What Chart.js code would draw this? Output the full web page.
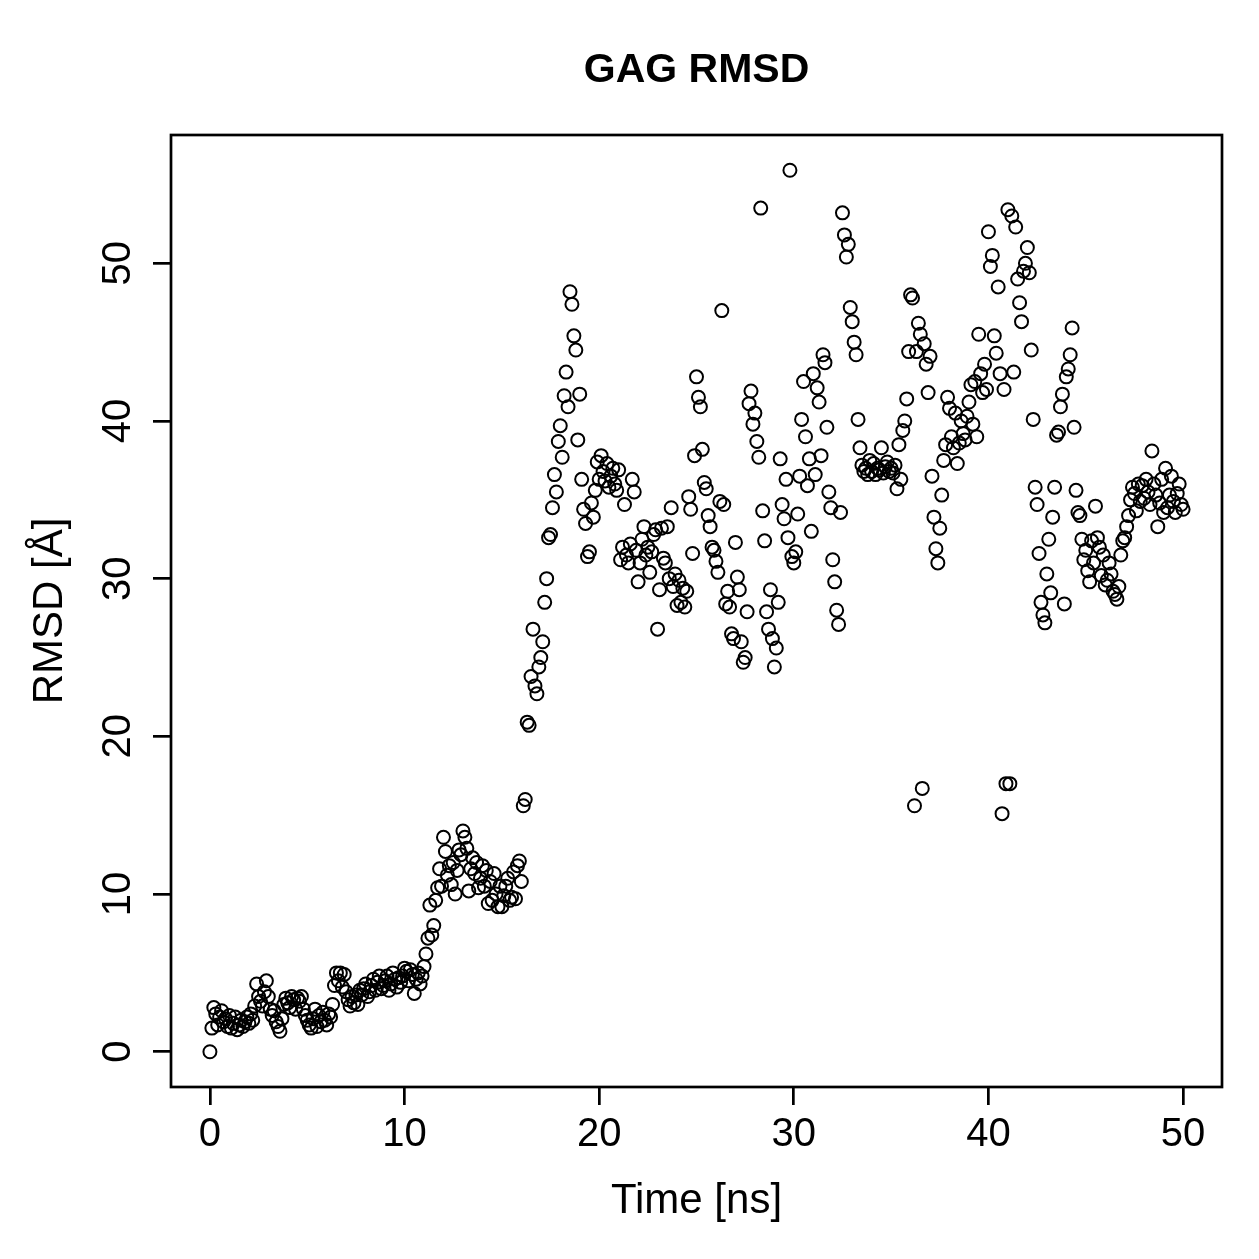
<!DOCTYPE html>
<html>
<head>
<meta charset="utf-8">
<script src="https://cdn.jsdelivr.net/npm/chart.js@4.4.1/dist/chart.umd.min.js"></script>
<style>
html,body{margin:0;padding:0;background:#fff;overflow:hidden;}
canvas{display:block;}
</style>
</head>
<body>
<canvas id="c" width="1259" height="1259"></canvas>
<script>
// ---- DATA (RMSD in Å, one sample every 0.1 ns) ----
const chartTitle = "GAG RMSD";
const xTitle = "Time [ns]";
const yTitle = "RMSD [Å]";
const timeStepNs = 0.1;
const xTickValues = [0, 10, 20, 30, 40, 50];
const yTickValues = [0, 10, 20, 30, 40, 50];

const rmsd_0_10 = [
  0.0, 1.5, 2.8, 2.4, 1.7, 2.2, 2.6, 1.9, 2.1, 1.6,
  2.3, 1.5, 1.8, 2.2, 1.4, 1.7, 2.0, 1.6, 1.9, 2.2,
  1.8, 2.4, 2.0, 2.9, 4.3, 3.5, 3.2, 2.9, 3.8, 4.5,
  3.5, 2.7, 2.3, 2.6, 1.9, 1.6, 1.3, 2.1, 3.0, 3.4,
  3.1, 2.8, 3.5, 3.3, 2.7, 3.4, 3.2, 3.5, 2.7, 2.3,
  2.0, 1.7, 1.5, 2.1, 2.7, 1.6, 2.3, 1.9, 2.5, 2.0,
  1.7, 2.4, 2.2, 3.0, 4.2, 5.0, 4.5, 5.0, 4.1, 4.9,
  3.8, 3.3, 2.9, 3.5, 3.1, 3.6, 3.0, 3.9, 3.6, 4.0,
  4.3, 3.5, 3.8, 4.2, 4.6, 3.9, 4.4, 4.8, 4.0, 4.2,
  4.5, 4.8, 3.9, 4.3, 5.0, 4.6, 4.1, 4.7, 4.4, 4.8
];
const rmsd_10_20 = [
  5.3, 5.1, 4.5, 5.2, 4.9, 3.7, 4.6, 5.0, 4.3, 4.8,
  5.4, 6.2, 7.2, 9.3, 7.4, 8.0, 9.6, 10.4, 11.6, 10.5,
  13.6, 12.7, 11.2, 11.8, 10.6, 12.0, 10.0, 11.5, 12.8, 12.5,
  14.0, 13.6, 12.9, 10.2, 11.6, 12.3, 11.3, 12.0, 10.4, 11.0,
  11.8, 10.5, 11.5, 9.4, 10.8, 9.6, 11.3, 10.0, 9.2, 10.5,
  9.2, 9.9, 10.5, 11.0, 9.6, 9.8, 11.4, 9.7, 11.8, 12.1,
  10.8, 15.6, 16.0, 20.9, 20.7, 23.8, 26.8, 23.2, 22.7, 24.4,
  25.0, 26.0, 28.5, 30.0, 32.6, 32.8, 34.5, 36.6, 35.5, 38.7,
  39.7, 37.7, 41.6, 43.1, 40.9, 48.2, 47.4, 45.4, 44.5, 38.8,
  41.7, 36.3, 34.4, 33.5, 31.4, 31.7, 34.8, 33.9, 35.6, 37.4
];
const rmsd_20_30 = [
  36.3, 37.8, 36.8, 36.2, 37.3, 35.8, 36.5, 37.0, 36.0, 35.6,
  36.9, 31.2, 32.0, 34.7, 31.5, 31.0, 32.2, 36.3, 35.5, 31.8,
  29.8, 31.0, 32.5, 33.3, 31.5, 32.0, 30.4, 31.7, 32.8, 33.1,
  26.8, 29.3, 33.2, 31.3, 31.0, 33.3, 30.0, 34.5, 29.5, 30.3,
  28.3, 29.9, 28.5, 29.4, 28.2, 29.2, 35.2, 34.4, 31.6, 37.8,
  42.8, 41.5, 40.9, 38.2, 36.1, 35.7, 34.0, 33.3, 32.0, 31.8,
  31.1, 30.4, 34.9, 47.0, 34.7, 28.4, 29.2, 28.2, 26.5, 26.2,
  32.3, 30.1, 29.3, 26.0, 24.7, 25.0, 27.9, 41.1, 41.9, 39.8,
  40.5, 38.7, 37.7, 53.5, 34.3, 32.4, 27.9, 26.8, 29.3, 26.2,
  24.4, 25.6, 28.5, 37.6, 34.7, 33.8, 36.3, 32.6, 55.9, 31.4
];
const rmsd_30_40 = [
  31.0, 31.7, 34.1, 36.5, 40.1, 42.5, 39.0, 35.9, 37.6, 33.0,
  43.0, 36.6, 42.1, 41.2, 37.8, 44.2, 43.7, 39.6, 35.5, 34.5,
  31.2, 29.8, 28.0, 27.1, 34.2, 53.2, 51.8, 50.4, 51.2, 47.2,
  46.3, 45.0, 44.2, 40.1, 38.3, 37.2, 36.8, 37.0, 36.6, 37.5,
  36.8, 37.3, 36.6, 37.0, 36.9, 38.3, 36.7, 37.1, 37.4, 36.8,
  37.0, 36.7, 37.2, 35.7, 38.5, 36.3, 39.4, 40.0, 41.4, 44.4,
  48.0, 47.8, 15.6, 44.4, 46.2, 45.5, 16.7, 44.9, 43.6, 41.8,
  44.1, 36.5, 33.9, 31.9, 31.0, 33.2, 35.3, 37.5, 38.5, 41.5,
  40.8, 39.0, 38.3, 40.5, 37.3, 38.6, 40.0, 39.2, 38.8, 40.3,
  41.2, 42.3, 39.8, 42.5, 39.0, 45.5, 43.0, 41.8, 43.6, 42.0
];
const rmsd_40_50 = [
  52.0, 49.8, 50.5, 45.4, 44.3, 48.5, 43.0, 15.1, 42.0, 17.0,
  53.4, 17.0, 53.0, 43.1, 52.3, 49.0, 47.5, 46.3, 49.5, 50.0,
  51.0, 49.4, 44.5, 40.1, 35.8, 34.7, 31.6, 28.5, 27.7, 27.2,
  30.3, 32.5, 29.1, 33.9, 35.8, 39.1, 39.3, 40.9, 41.7, 28.4,
  42.8, 43.3, 44.2, 45.9, 39.6, 35.6, 34.2, 34.0, 32.5, 31.2,
  31.8, 30.5, 29.8, 32.4, 31.0, 34.6, 32.6, 32.0, 30.2, 31.5,
  29.6, 29.9, 31.0, 30.3, 29.2, 29.0, 28.7, 29.5, 31.5, 32.4,
  32.6, 33.3, 34.0, 35.0, 35.8, 35.4, 34.3, 36.0, 34.9, 35.9,
  35.1, 36.3, 35.5, 34.7, 38.1, 36.0, 35.3, 33.3, 34.8, 36.3,
  34.2, 37.0, 34.5, 35.3, 36.5, 34.9, 34.2, 35.4, 36.0, 34.7,
  34.4
];

// ---- build dataset ----
const rmsd = [].concat(rmsd_0_10, rmsd_10_20, rmsd_20_30, rmsd_30_40, rmsd_40_50);
const points = rmsd.map((v, i) => ({ x: Math.round(i * timeStepNs * 10) / 10, y: v }));

// R-style axis ranges (data range extended by 4 %)
function rRange(vals) {
  const lo = Math.min(...vals), hi = Math.max(...vals);
  const d = (hi - lo) * 0.04;
  return [lo - d, hi + d];
}
const [xMin, xMax] = rRange(points.map(p => p.x));
const [yMin, yMax] = rRange(rmsd);

const FONT = "'Liberation Sans', Arial, Helvetica, sans-serif";
const LINE = 2.7;

const rBox = {
  id: 'rBox',
  afterDraw(chart) {
    const { ctx, chartArea: a } = chart;
    ctx.save();
    ctx.strokeStyle = '#000';
    ctx.lineWidth = LINE;
    ctx.strokeRect(a.left, a.top, a.right - a.left, a.bottom - a.top);
    // y tick labels, rotated like R (reading bottom to top)
    const ys = chart.scales.y;
    ctx.fillStyle = '#000';
    ctx.font = '40px ' + FONT;
    ctx.textAlign = 'center';
    ctx.textBaseline = 'alphabetic';
    ys.ticks.forEach(t => {
      const py = ys.getPixelForValue(t.value);
      ctx.save();
      ctx.translate(130, py);
      ctx.rotate(-Math.PI / 2);
      ctx.fillText(String(t.value), 0, 0);
      ctx.restore();
    });
    ctx.restore();
  }
};

new Chart(document.getElementById('c'), {
  type: 'scatter',
  data: {
    datasets: [{
      data: points,
      pointStyle: 'circle',
      pointRadius: 6.5,
      pointBorderWidth: 2,
      borderColor: '#000',
      backgroundColor: 'rgba(0,0,0,0)',
      pointBackgroundColor: 'rgba(0,0,0,0)',
      pointBorderColor: '#000',
      showLine: false
    }]
  },
  options: {
    responsive: false,
    devicePixelRatio: 1,
    animation: false,
    events: [],
    layout: { padding: { left: 0, right: 37, top: 0, bottom: 0 } },
    plugins: {
      legend: { display: false },
      tooltip: { enabled: false },
      title: {
        display: true,
        text: chartTitle,
        fullSize: false,
        color: '#000',
        font: { family: FONT, size: 41, weight: 'bold', lineHeight: 1.2 },
        padding: { top: 46, bottom: 39.8 }
      }
    },
    scales: {
      x: {
        type: 'linear',
        min: xMin,
        max: xMax,
        afterBuildTicks: s => { s.ticks = xTickValues.map(v => ({ value: v })); },
        afterFit: s => { s.height = 172; },
        grid: { display: true, drawOnChartArea: false, drawTicks: true, tickLength: 18, color: '#000', lineWidth: LINE },
        border: { display: false },
        ticks: { color: '#000', font: { family: FONT, size: 40 }, padding: 6, maxRotation: 0, autoSkip: false },
        title: { display: true, text: xTitle, color: '#000', font: { family: FONT, size: 42 }, padding: { top: 0, bottom: 32 } }
      },
      y: {
        type: 'linear',
        min: yMin,
        max: yMax,
        afterBuildTicks: s => { s.ticks = yTickValues.map(v => ({ value: v })); },
        afterFit: s => { s.width = 171; },
        grid: { display: true, drawOnChartArea: false, drawTicks: true, tickLength: 18, color: '#000', lineWidth: LINE },
        border: { display: false },
        ticks: { display: false },
        title: { display: true, text: yTitle, color: '#000', font: { family: FONT, size: 42 }, padding: { top: 25, bottom: 0 } }
      }
    }
  },
  plugins: [rBox]
});
</script>
</body>
</html>
